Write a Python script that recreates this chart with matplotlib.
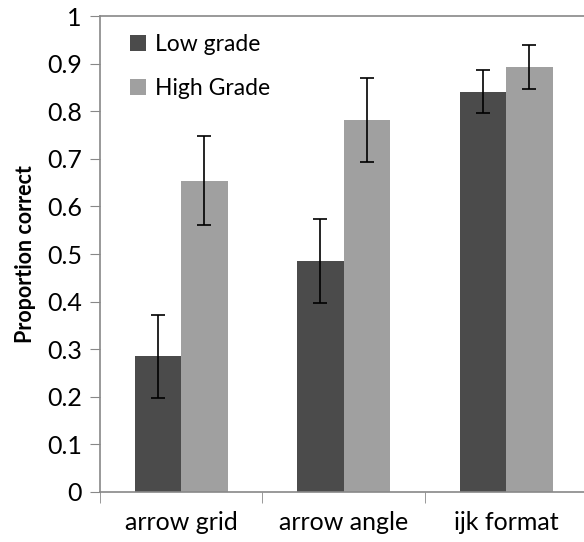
import numpy as np
import matplotlib.pyplot as plt

plt.rcParams['font.family'] = ['Lato', 'DejaVu Sans']

# 数据
categories = ['arrow grid', 'arrow angle', 'ijk format']
low_grade = [0.285, 0.485, 0.841]
high_grade = [0.654, 0.782, 0.893]
low_err = [0.087, 0.088, 0.045]
high_err = [0.094, 0.088, 0.047]

x = np.arange(len(categories))
w = 0.286

fig = plt.figure(figsize=(5.84, 5.42), dpi=100)
ax = fig.add_axes([0.171, 0.0923, 0.835, 0.878])

ax.bar(x - w / 2, low_grade, w, color='#4b4b4b', label='Low grade',
       yerr=low_err, capsize=5, error_kw=dict(elinewidth=1.2, ecolor='black', capthick=1.2))
ax.bar(x + w / 2, high_grade, w, color='#a0a0a0', label='High Grade',
       yerr=high_err, capsize=5, error_kw=dict(elinewidth=1.2, ecolor='black', capthick=1.2))

ax.set_xlim(-0.5, 2.5)
ax.set_ylim(0, 1)
ax.set_yticks(np.arange(0, 1.01, 0.1))
ax.set_yticklabels(['0', '0.1', '0.2', '0.3', '0.4', '0.5', '0.6', '0.7', '0.8', '0.9', '1'])
ax.set_xticks(x)
ax.set_xticklabels(categories)
ax.set_xticks([-0.5, 0.5, 1.5, 2.5], minor=True)
ax.tick_params(axis='x', which='major', length=0, pad=14, labelsize=18)
ax.tick_params(axis='x', which='minor', length=8, color='#888888')
ax.tick_params(axis='y', length=7, color='#888888', labelsize=18, pad=6)

ax.axhline(1, color='#888888', lw=1.2, clip_on=False)
for s in ['top', 'right']:
    ax.spines[s].set_visible(False)
for s in ['left', 'bottom']:
    ax.spines[s].set_color('#888888')
    ax.spines[s].set_linewidth(1.2)

ax.set_ylabel('Proportion correct', fontsize=15.5, fontweight='bold', labelpad=8)

ax.legend(loc='upper left', frameon=False, fontsize=16.5, handlelength=0.7, handleheight=0.7,
          handletextpad=0.4, labelspacing=1.0, bbox_to_anchor=(0.02, 1.005))

fig.savefig('out.png', dpi=100)
